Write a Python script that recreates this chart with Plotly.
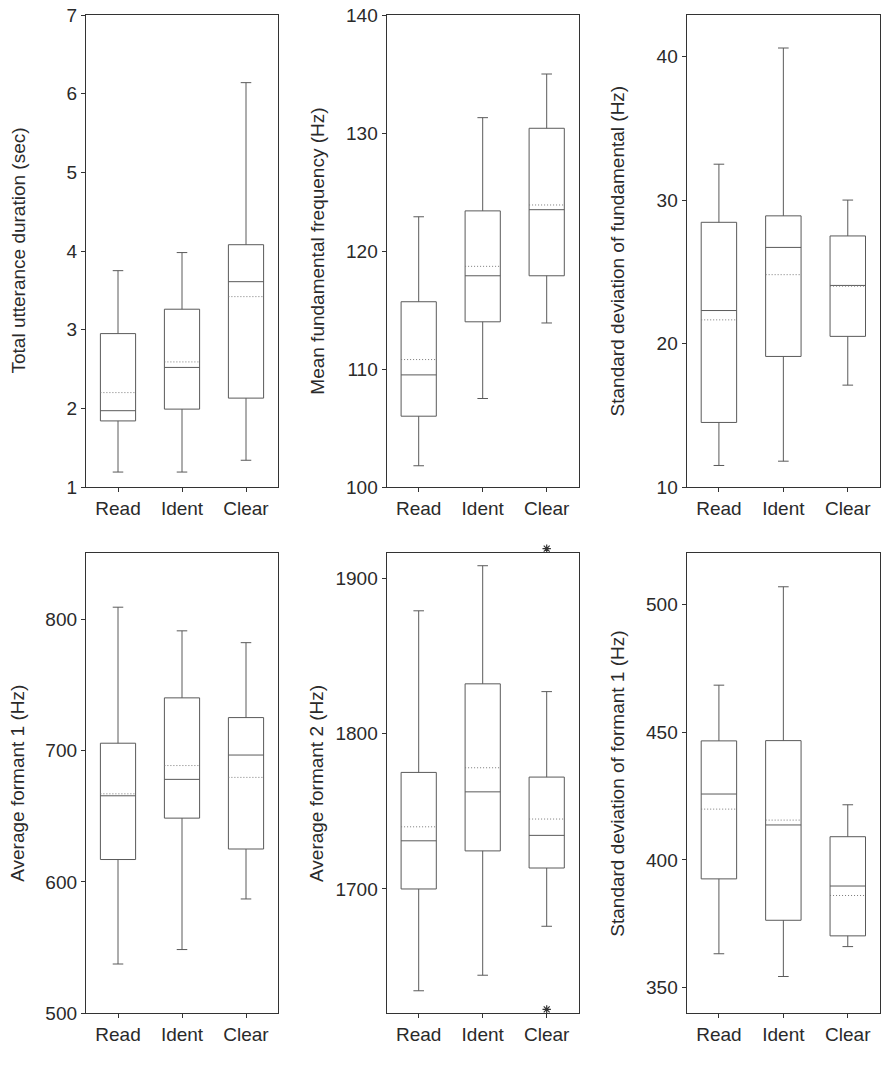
import plotly.graph_objects as go

categories = ["Read", "Ident", "Clear"]

# Panel 1: Total utterance duration (sec)
dur_low = [1.19, 1.19, 1.34]
dur_q1 = [1.84, 1.99, 2.13]
dur_med = [1.97, 2.52, 3.61]
dur_mean = [2.20, 2.59, 3.42]
dur_q3 = [2.95, 3.26, 4.08]
dur_high = [3.75, 3.98, 6.14]

# Panel 2: Mean fundamental frequency (Hz)
f0m_low = [101.8, 107.5, 113.9]
f0m_q1 = [106.0, 114.0, 117.9]
f0m_med = [109.5, 117.9, 123.5]
f0m_mean = [110.8, 118.7, 123.9]
f0m_q3 = [115.7, 123.4, 130.4]
f0m_high = [122.9, 131.3, 135.0]

# Panel 3: Standard deviation of fundamental (Hz)
f0s_low = [11.5, 11.8, 17.1]
f0s_q1 = [14.5, 19.1, 20.5]
f0s_med = [22.3, 26.7, 24.05]
f0s_mean = [21.65, 24.8, 24.0]
f0s_q3 = [28.45, 28.9, 27.5]
f0s_high = [32.5, 40.6, 30.0]

# Panel 4: Average formant 1 (Hz)
f1a_low = [537.5, 548.5, 587.0]
f1a_q1 = [617.0, 648.5, 625.0]
f1a_med = [665.5, 678.0, 696.5]
f1a_mean = [667.0, 688.5, 679.5]
f1a_q3 = [705.5, 740.0, 725.0]
f1a_high = [809.0, 791.0, 782.0]

# Panel 5: Average formant 2 (Hz)
f2a_low = [1634.5, 1644.5, 1676.0]
f2a_q1 = [1700.0, 1724.5, 1713.5]
f2a_med = [1731.0, 1762.5, 1734.5]
f2a_mean = [1740.0, 1778.0, 1745.0]
f2a_q3 = [1775.0, 1832.0, 1772.0]
f2a_high = [1879.0, 1908.0, 1827.0]
f2a_outlier_cat = [2, 2]
f2a_outlier_val = [1919.0, 1622.5]

# Panel 6: Standard deviation of formant 1 (Hz)
f1s_low = [363.3, 354.4, 366.1]
f1s_q1 = [392.6, 376.4, 370.3]
f1s_med = [425.8, 413.7, 389.8]
f1s_mean = [419.9, 415.6, 386.1]
f1s_q3 = [446.6, 446.7, 409.1]
f1s_high = [468.4, 506.9, 421.6]

titles = [
    "Total utterance duration (sec)",
    "Mean fundamental frequency (Hz)",
    "Standard deviation of fundamental (Hz)",
    "Average formant 1 (Hz)",
    "Average formant 2 (Hz)",
    "Standard deviation of formant 1 (Hz)",
]
yranges = [[1, 7], [100, 140], [10, 42.9], [500, 850], [1620, 1916], [340, 520]]
ytickvals = [
    [1, 2, 3, 4, 5, 6, 7],
    [100, 110, 120, 130, 140],
    [10, 20, 30, 40],
    [500, 600, 700, 800],
    [1700, 1800, 1900],
    [350, 400, 450, 500],
]

panels = [
    (dur_low, dur_q1, dur_med, dur_mean, dur_q3, dur_high),
    (f0m_low, f0m_q1, f0m_med, f0m_mean, f0m_q3, f0m_high),
    (f0s_low, f0s_q1, f0s_med, f0s_mean, f0s_q3, f0s_high),
    (f1a_low, f1a_q1, f1a_med, f1a_mean, f1a_q3, f1a_high),
    (f2a_low, f2a_q1, f2a_med, f2a_mean, f2a_q3, f2a_high),
    (f1s_low, f1s_q1, f1s_med, f1s_mean, f1s_q3, f1s_high),
]

W, H = 881, 1074
col_px = [(86, 278), (386.7, 578.7), (686.7, 880)]
row_px = [(15, 487), (553.3, 1013.3)]
title_x_px = [17.5, 316.7, 617.4]


def fx(px):
    return px / W


def fy(px):
    return 1 - px / H


FONT = "Arial, Liberation Sans, sans-serif"
TXT = "#2a2a2a"
BOXC = "#5a5a5a"
MEANC = "#7a7a7a"
FRAME = "#333333"
BOXW = 0.55

xpos = list(range(len(categories)))

fig = go.Figure()
layout = dict(
    width=W, height=H,
    margin=dict(l=0, r=0, t=0, b=0),
    paper_bgcolor="white", plot_bgcolor="rgba(0,0,0,0)",
    showlegend=False,
    font=dict(family=FONT, size=19, color=TXT),
)
annotations = []

for k, (low, q1, med, mean, q3, high) in enumerate(panels):
    r, c = divmod(k, 3)
    sfx = "" if k == 0 else str(k + 1)
    xa, ya = "x" + sfx, "y" + sfx
    fig.add_trace(go.Box(
        x=xpos, q1=q1, median=med, q3=q3, lowerfence=low, upperfence=high,
        width=BOXW, whiskerwidth=0.3, boxpoints=False,
        line=dict(color=BOXC, width=1), fillcolor="rgba(255,255,255,0)",
        xaxis=xa, yaxis=ya, hoverinfo="skip",
    ))
    for i, m in enumerate(mean):
        fig.add_trace(go.Scatter(
            x=[xpos[i] - BOXW / 2, xpos[i] + BOXW / 2], y=[m, m], mode="lines",
            line=dict(color=MEANC, width=1, dash="1px,2px"),
            xaxis=xa, yaxis=ya, hoverinfo="skip",
        ))
    x0, x1 = col_px[c]
    yt, yb = row_px[r]
    layout["xaxis" + sfx] = dict(
        domain=[fx(x0), fx(x1)], anchor=ya, range=[-0.5, 2.5],
        tickvals=xpos, ticktext=categories, ticks="outside", ticklen=4,
        tickcolor=FRAME, showline=True, mirror=True, linecolor=FRAME,
        linewidth=1.3, showgrid=False, zeroline=False, automargin=False,
        ticklabeloverflow="allow", tickfont=dict(size=19, color=TXT),
    )
    layout["yaxis" + sfx] = dict(
        domain=[fy(yb), fy(yt)], anchor=xa, range=yranges[k],
        tickvals=ytickvals[k], ticks="outside", ticklen=4, tickcolor=FRAME,
        showline=True, mirror=True, linecolor=FRAME, linewidth=1.3,
        showgrid=False, zeroline=False, automargin=False,
        ticklabeloverflow="allow", tickfont=dict(size=19, color=TXT),
    )
    annotations.append(dict(
        text=titles[k], textangle=-90, xref="paper", yref="paper",
        x=fx(title_x_px[c]), y=fy((yt + yb) / 2),
        xanchor="center", yanchor="middle", showarrow=False,
        font=dict(size=19, color=TXT, family=FONT),
    ))

# hidden helper axis with the same scale as panel 5, extended upward so the
# outlier above the frame is not hidden
yt5, yb5 = row_px[1]
EXT = 15
lo5, hi5 = yranges[4]
layout["yaxis7"] = dict(
    domain=[fy(yb5), fy(yt5 - EXT)], anchor="x5",
    range=[lo5, hi5 + EXT * (hi5 - lo5) / (yb5 - yt5)],
    visible=False, automargin=False, showgrid=False, zeroline=False,
)
fig.add_trace(go.Scatter(
    x=f2a_outlier_cat, y=f2a_outlier_val, mode="markers",
    marker=dict(symbol="asterisk-open", size=7, color=FRAME,
                line=dict(color=FRAME, width=1.2)),
    xaxis="x5", yaxis="y7", cliponaxis=False, hoverinfo="skip",
))

layout["annotations"] = annotations
fig.update_layout(**layout)
fig.write_html(
    "out.html",
    config={"displayModeBar": False},
    post_script="document.body.style.margin='0';",
)
